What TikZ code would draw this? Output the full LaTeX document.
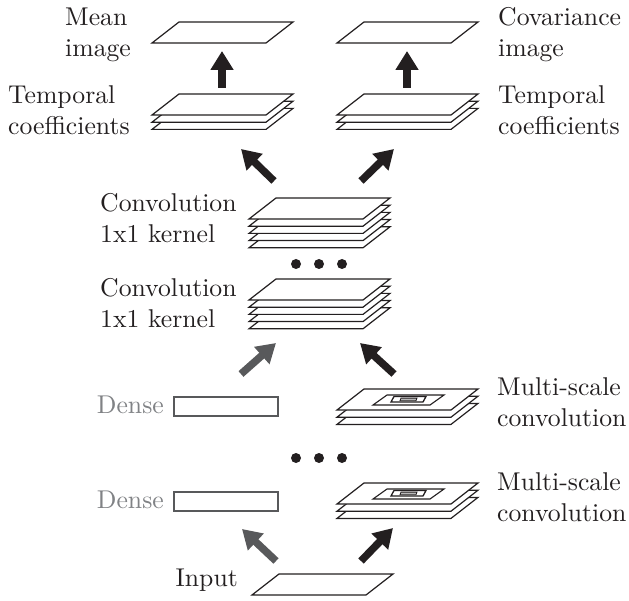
\documentclass[tikz,border=0pt]{standalone}
\usetikzlibrary{arrows.meta}
\definecolor{ink}{HTML}{231F20}
\definecolor{midgray}{HTML}{58595B}
\definecolor{txtgray}{HTML}{808285}
\newcommand\lbl[1]{\scalebox{2.57}{\begin{tabular}{@{}l@{}}#1\end{tabular}}}
\newcommand\sheetpath[2]{(#1,#2) -- ++(114,0) -- ++(27,-21) -- ++(-114,0) -- cycle}
\newcommand\stackat[3]{\foreach \k in {#3,...,0} {\filldraw[sheet] \sheetpath{#1}{#2+\k*7.2};}}
\tikzset{
  sheet/.style={draw=ink, fill=white, line width=1.2pt, line join=miter},
  lab/.style={inner sep=0pt, anchor=west, text=ink},
  graylab/.style={inner sep=0pt, anchor=east, text=txtgray},
  fatblack/.style={draw=ink, line width=7.5pt, -{Triangle[length=19pt,width=22pt]}},
  fatgray/.style={draw=midgray, line width=7.5pt, -{Triangle[length=19pt,width=22pt]}},
  densebox/.style={draw=midgray, line width=1.1pt, fill=white},
  dot/.style={fill=ink, draw=none},
}
\begin{document}
\begin{tikzpicture}[x=1pt, y=-1pt]
\useasboundingbox (0,0) rectangle (629,601);

% ---- top images
\filldraw[sheet] \sheetpath{152}{43};
\filldraw[sheet] \sheetpath{337}{43};

% ---- temporal coefficient stacks
\stackat{152}{115}{2}
\stackat{337}{115}{2}

% ---- convolution stacks
\stackat{249}{219}{4}
\stackat{249}{300}{4}

% ---- multi-scale stacks
\foreach \yy in {410,504} {
  \stackat{337}{\yy}{2}
  \draw[draw=ink, line width=1.1pt] (373,\yy-5) -- ++(57,0) -- ++(14,-10) -- ++(-57,0) -- cycle;
  \draw[draw=ink, line width=1.3pt] (391,\yy-8) -- ++(32,0) -- ++(3,-5.5) -- ++(-32,0) -- cycle;
  \filldraw[draw=ink, fill=gray!55, line width=0.8pt] (400,\yy-9.3) -- ++(16,0) -- ++(1,-2.6) -- ++(-16,0) -- cycle;
}

% ---- input
\filldraw[sheet] \sheetpath{252}{595};

% ---- dense boxes
\draw[densebox] (174,397) rectangle (278,416);
\draw[densebox] (174,492) rectangle (278,511);

% ---- dots
\foreach \xx in {296,319,342} {
  \fill[dot] (\xx,264) circle (5);
  \fill[dot] (\xx,458) circle (5);
}

% ---- labels
\node[lab] (lmean) at (65,35) {\lbl{Mean\\image}};
\node[lab] (lcov) at (498,35) {\lbl{Covariance\\image}};
\node[lab] (ltempl) at (8,113) {\lbl{Temporal\\coefficients}};
\node[lab] (ltempr) at (498,113) {\lbl{Temporal\\coefficients}};
\node[lab] (lconv1) at (100,221) {\lbl{Convolution\\1x1 kernel}};
\node[lab] (lconv2) at (100,306) {\lbl{Convolution\\1x1 kernel}};
\node[lab] (lms1) at (497,405) {\lbl{Multi-scale\\convolution}};
\node[lab] (lms2) at (497,500) {\lbl{Multi-scale\\convolution}};
\node[graylab] (ldense1) at (164,407) {\lbl{Dense}};
\node[graylab] (ldense2) at (164,502) {\lbl{Dense}};
\node[lab, anchor=east] (linput) at (238,580) {\lbl{Input}};

% ---- arrow end points
\coordinate (u1s) at (222,88);  \coordinate (u1e) at (222,51);
\coordinate (u2s) at (407,88);  \coordinate (u2e) at (407,51);
\coordinate (d1s) at (274,181); \coordinate (d1e) at (241,149);
\coordinate (d2s) at (361,181); \coordinate (d2e) at (394,149);
\coordinate (m1s) at (241,374); \coordinate (m1e) at (276,343);
\coordinate (m2s) at (394,374); \coordinate (m2e) at (360,343);
\coordinate (b1s) at (276,561); \coordinate (b1e) at (242,529);
\coordinate (b2s) at (361,561); \coordinate (b2e) at (393,528);

\draw[fatblack] (u1s) -- (u1e);
\draw[fatblack] (u2s) -- (u2e);
\draw[fatblack] (d1s) -- (d1e);
\draw[fatblack] (d2s) -- (d2e);
\draw[fatgray] (m1s) -- (m1e);
\draw[fatblack] (m2s) -- (m2e);
\draw[fatgray] (b1s) -- (b1e);
\draw[fatblack] (b2s) -- (b2e);
\end{tikzpicture}
\end{document}
